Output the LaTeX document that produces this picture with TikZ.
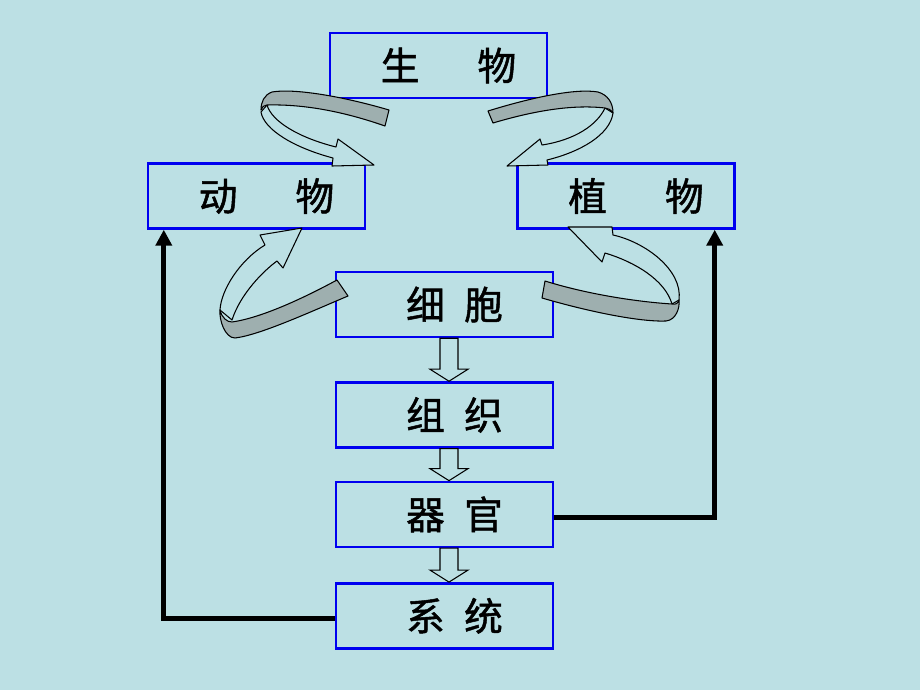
\documentclass[tikz,border=0pt]{standalone}
\usepackage{fontspec}
\newfontfamily\cjk[AutoFakeBold=1.3]{Noto Sans CJK SC}
\usetikzlibrary{arrows.meta, positioning, calc}
\definecolor{PaleTeal}{RGB}{188,224,228}
\definecolor{BandGray}{RGB}{158,175,175}
\definecolor{FrameBlue}{RGB}{0,0,240}

\begin{document}
\begin{tikzpicture}[x=0.02cm, y=-0.02cm, >=Stealth,
    level/.style={draw=FrameBlue, line width=1.4pt, fill=PaleTeal,
        minimum width=4.34cm, minimum height=1.3cm, inner sep=0pt,
        font=\cjk\bfseries\fontsize{22}{26}\selectfont,
        execute at begin node={\hspace{0.4cm}}},
    hollowarrow/.style={draw=black, fill=PaleTeal, line width=0.6pt},
    ribbonfront/.style={draw=black, fill=PaleTeal, line width=0.6pt, line join=round},
    ribbonback/.style={draw=black, fill=BandGray, line width=0.6pt, line join=round},
    linkline/.style={line width=2.8pt, -{Triangle[length=0.32cm, width=0.32cm]}}]
    % Background
    \fill[PaleTeal] (0,0) rectangle (920,690);
    \useasboundingbox (0,0) rectangle (920,690);
    % Levels
    \node[level] (shengwu) at (438.5,65.5) {生\hspace{1.5em}物};
    \node[level] (dongwu) at (256.5,196) {动\hspace{1.5em}物};
    \node[level] (zhiwu) at (626,196) {植\hspace{1.5em}物};
    \node[level] (xibao) at (444.5,304.5) {细\hspace{0.5em}胞};
    \node[level, below=0.86cm of xibao] (zuzhi) {组\hspace{0.5em}织};
    \node[level, below=0.64cm of zuzhi] (qiguan) {器\hspace{0.5em}官};
    \node[level, below=0.68cm of qiguan] (xitong) {系\hspace{0.5em}统};
    % Hollow arrows down the column
    \foreach \a/\b in {xibao/zuzhi, zuzhi/qiguan, qiguan/xitong}
        \draw[hollowarrow] ($(\a.south)+(-4.5,0)$) -- ($(\b.north)+(-4.5,-12)$)
            -- ($(\b.north)+(-14.5,-12)$) -- ($(\b.north)+(4.5,0)$)
            -- ($(\b.north)+(23.5,-12)$) -- ($(\b.north)+(13.5,-12)$)
            -- ($(\a.south)+(13.5,0)$) -- cycle;
    % Thick links back up
    \draw[linkline] ($(xitong.west)+(0,3)$) -| ($(dongwu.south west)+(17,0)$);
    \draw[linkline] ($(qiguan.east)+(0,3)$) -| ($(zhiwu.south east)+(-21,0)$);
    % Curled arrow, top left
    \draw[ribbonfront] (267,105) .. controls (272,122) and (300,138) .. (336,147)
        -- (338,139) -- (374,165) -- (332,166) -- (333,158)
        .. controls (295,148) and (264,130) .. (261,112) -- cycle;
    \draw[ribbonback] (385,126) -- (389,110) .. controls (345,97) and (295,88) .. (272,92)
        .. controls (264,95) and (261,102) .. (261,110)
        .. controls (262,107) and (264,105) .. (267,105)
        .. controls (305,104) and (345,112) .. (385,126) -- cycle;
    % Curled arrow, top right
    \draw[ribbonfront] (605,108) .. controls (597,125) and (575,140) .. (542,145)
        -- (540,139) -- (507,166) -- (548,165) -- (547,160)
        .. controls (580,152) and (610,135) .. (613,113) -- cycle;
    \draw[ribbonback] (493,123) -- (488,111) .. controls (530,98) and (575,88) .. (598,92)
        .. controls (608,95) and (613,103) .. (613,113)
        .. controls (611,110) and (608,108) .. (605,108)
        .. controls (570,104) and (530,112) .. (493,123) -- cycle;
    % Curled arrow, bottom left
    \draw[ribbonfront] (220,310) .. controls (221,290) and (240,260) .. (265,245)
        -- (260,235) -- (302,228) -- (283,268) -- (277,261)
        .. controls (262,272) and (240,295) .. (232,320) -- cycle;
    \draw[ribbonback] (337,280) -- (348,296) .. controls (310,312) and (260,335) .. (235,338)
        .. controls (225,338) and (219,320) .. (220,310)
        .. controls (222,318) and (227,322) .. (232,322)
        .. controls (260,318) and (300,300) .. (337,280) -- cycle;
    % Curled arrow, bottom right
    \draw[ribbonfront] (679,300) .. controls (683,270) and (645,242) .. (613,235)
        -- (612,227) -- (568,227) -- (602,262) -- (605,253)
        .. controls (635,262) and (665,280) .. (672,304) -- cycle;
    \draw[ribbonback] (545,281) -- (542,298) .. controls (590,312) and (640,322) .. (666,321)
        .. controls (676,320) and (680,308) .. (679,300)
        .. controls (678,303) and (676,305) .. (672,304)
        .. controls (640,302) and (590,295) .. (545,281) -- cycle;
\end{tikzpicture}
\end{document}
